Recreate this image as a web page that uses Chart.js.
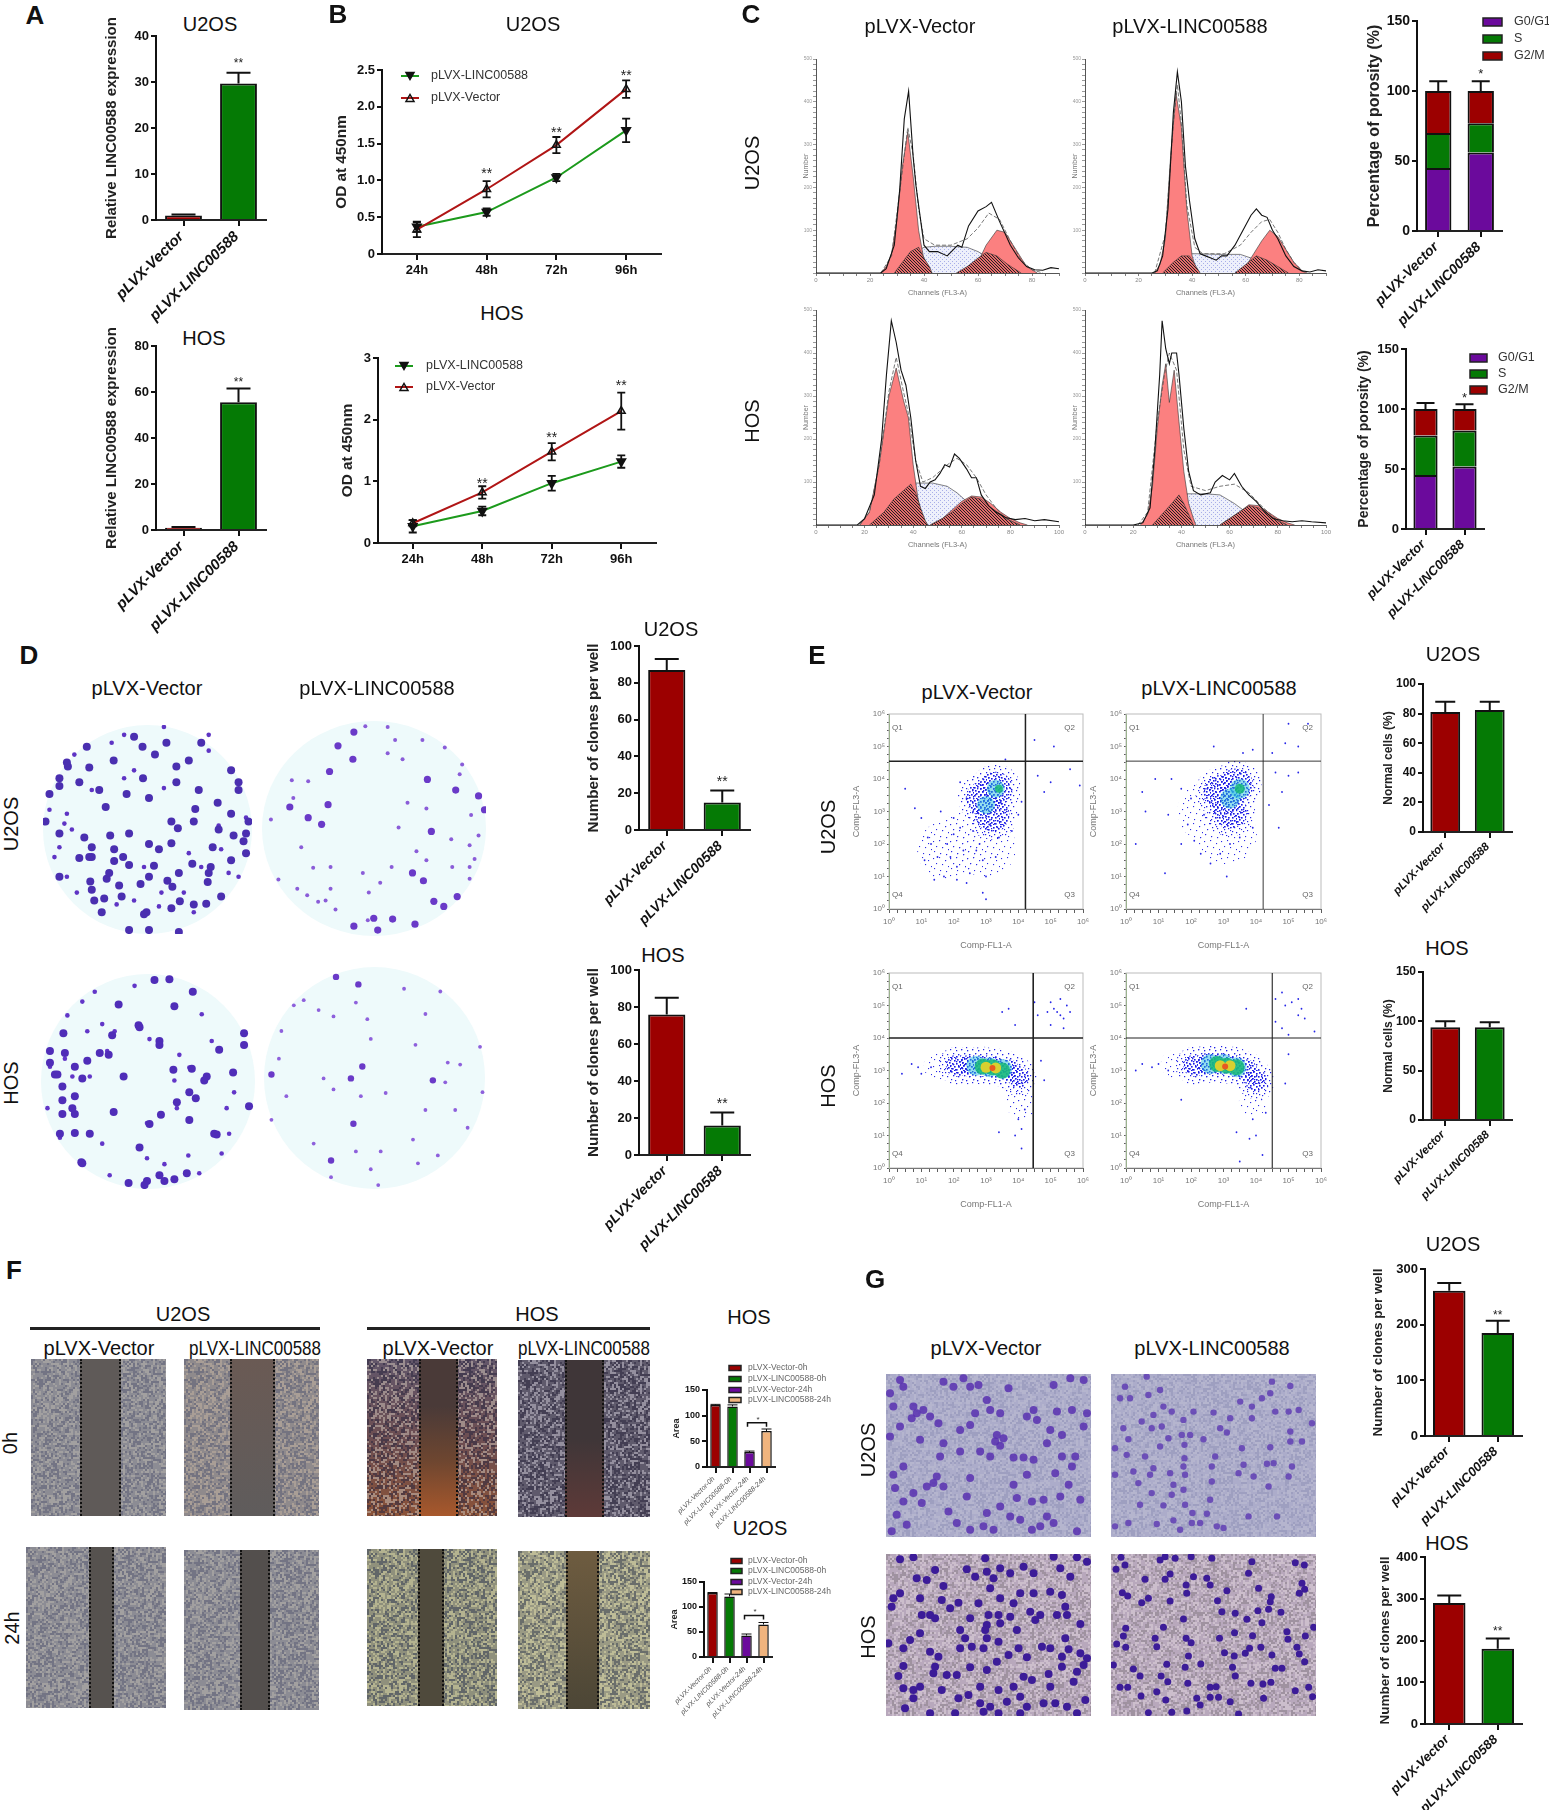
<!DOCTYPE html>
<html>
<head>
<meta charset="utf-8">
<title>LINC00588 figure</title>
<script src="https://cdn.jsdelivr.net/npm/chart.js"></script>
<style>
html, body { margin: 0; padding: 0; background: #fff; }
#page { position: relative; width: 1549px; height: 1810px; overflow: hidden; font-family: "Liberation Sans", Arial, sans-serif; color: #111; }
#page canvas { position: absolute; }
.t { position: absolute; white-space: nowrap; line-height: 1; }
.box { position: absolute; }
</style>
</head>
<body>
<div id="page"></div>
<script>
// ---- values ----
const groups = ['pLVX-Vector', 'pLVX-LINC00588'];
const hours = ['24h', '48h', '72h', '96h'];
const phases = ['G0/G1', 'S', 'G2/M'];
const woundGroups = ['pLVX-Vector-0h', 'pLVX-LINC00588-0h', 'pLVX-Vector-24h', 'pLVX-LINC00588-24h'];

const aU2os = [1, 29.7], aU2osErr = [1.2, 32];
const aHos = [1, 55.5], aHosErr = [1.3, 61.5];

const bU2osVector = [0.33, 0.88, 1.48, 2.24], bU2osVectorErr = [0.1, 0.11, 0.11, 0.12];
const bU2osLinc = [0.37, 0.57, 1.04, 1.68], bU2osLincErr = [0.07, 0.05, 0.05, 0.16];
const bU2osStars = [null, 1.09, 1.64, 2.42];
const bHosVector = [0.32, 0.82, 1.48, 2.14], bHosVectorErr = [0.05, 0.1, 0.14, 0.3];
const bHosLinc = [0.27, 0.52, 0.97, 1.32], bHosLincErr = [0.1, 0.07, 0.12, 0.1];
const bHosStars = [null, 0.96, 1.7, 2.55];

const cU2osG1 = [45, 56], cU2osS = [25, 21], cU2osG2 = [30, 23], cU2osErr = [107, 107];
const cHosG1 = [45, 52], cHosS = [33, 30], cHosG2 = [22, 18], cHosErr = [105, 104];

const dU2os = [87, 15], dU2osErr = [93, 21.5];
const dHos = [76, 16], dHosErr = [85, 23];
const eU2os = [81, 82.5], eU2osErr = [88, 88];
const eHos = [94, 94], eHosErr = [100, 99];
const fHos = [121, 118, 29, 70], fHosErr = [122, 121, 31, 74];
const fU2os = [128, 121, 43, 65], fU2osErr = [129, 126, 46, 69];
const gU2os = [261, 185], gU2osErr = [275, 207];
const gHos = [290, 180], gHosErr = [308, 205];

// cell cycle histograms, [channel, count %]
const h1Line = [[0,0],[24,0],[26,2],[29,13],[31,39],[32.7,72],[34.3,85],[36,54],[37,41],[40,13],[42,10],[45,10],[48.6,8],[52.5,13],[54,12],[56.5,22],[60,29],[63,31],[65,33],[68,24],[72,13],[75,7],[78,3],[81,1.5],[84,1.3],[87,2.5],[90,2]];
const h1Fit = [[24,0],[28,8],[31,38],[34,68],[36,55],[38,30],[40,16],[44,13],[50,13],[56,16],[60,21],[64,28],[68,25],[72,15],[76,6],[80,1.5],[84,0]];
const h1G1 = [[24,0],[26,3],[28,9],[30,25],[32,50],[34,66],[36,45],[38,20],[40,6],[42,0]];
const h1S = [[29,0],[33,6],[37,10],[40,12],[44,12.5],[50,12.5],[56,12],[60,10],[64,7],[68,3],[72,0]];
const h1G2 = [[52,0],[56,2],[60,5],[63,13],[67,20],[70,19],[74,11],[78,3],[82,0]];
const h1HatchA = [[29,0],[32,5],[35,10],[38,12],[40,7],[42,3],[43,0]];
const h1HatchB = [[52,0],[56,3],[60,7],[63,9.6],[67,8],[71,4],[76,0]];

const h2Line = [[0,0],[25,0],[27,1],[29,8],[31,30],[33,75],[34.5,94],[36,80],[37.5,50],[39,34],[41,16],[43,9],[45,8],[47,7],[49,6],[51,8],[53,8],[56,13],[59,20],[62,27],[64,30],[66,27],[68,26],[70,20],[72,16],[75,8],[78,3],[81,1],[84,0.5],[87,1.5],[90,1]];
const h2Fit = [[26,0],[30,18],[33,70],[34.5,88],[36,70],[38,32],[41,12],[44,9],[52,9],[58,13],[62,19],[66,24],[69,25],[72,19],[75,11],[78,5],[82,0]];
const h2G1 = [[26,0],[28,4],[30,16],[32,55],[34,84],[36,68],[38,30],[40,8],[42,0]];
const h2S = [[30,0],[34,6],[38,9],[42,9],[50,8.7],[58,8.7],[62,7],[66,4],[70,1],[72,0]];
const h2G2 = [[56,0],[60,3],[63,9],[66,15],[69,20],[72,17],[75,11],[78,5],[81,1],[83,0]];
const h2HatchA = [[29,0],[33,5],[36,8],[39,8],[41,4],[43,0]];
const h2HatchB = [[56,0],[60,4],[64,8],[68,6],[72,3],[76,0]];

const h3Line = [[0,0],[17,0],[20,3],[24,14],[27,40],[29,70],[31,95],[33,85],[35,72],[37,65],[39,50],[41,30],[43,18],[45,17],[47,20],[49,21],[51,24],[53,28],[55,27],[57,33],[59,31],[62,26],[64,22],[66,22],[68,14],[71,9],[74,6],[78,3.5],[82,2.5],[86,3],[90,2],[94,2.5],[100,1.5]];
const h3Fit = [[18,0],[22,6],[26,28],[30,62],[33,78],[36,62],[38,52],[41,30],[44,20],[48,22],[54,28],[58,31],[62,28],[66,22],[70,14],[74,8],[78,3],[84,0]];
const h3G1 = [[18,0],[22,6],[26,28],[30,60],[33,73],[36,58],[38,50],[40,28],[42,12],[44,3],[46,0]];
const h3S = [[24,0],[30,6],[36,14],[40,19.5],[48,19.5],[54,18],[58,15],[64,9],[70,4],[76,0]];
const h3G2 = [[47,0],[52,3],[56,7],[60,11],[64,13.5],[68,13],[72,10],[76,6],[80,3],[84,1],[87,0]];
const h3HatchA = [[22,0],[28,6],[32,12],[36,16],[39,19],[41,15],[43,8],[45,2],[46,0]];
const h3HatchB = [[47,0],[52,3],[56,6],[60,10],[64,13],[68,12],[72,8],[76,5],[80,2],[84,0]];

const h4Line = [[0,0],[20,0],[24,1],[27,8],[29,35],[31,70],[32,95],[33.5,82],[35,75],[36,80],[38,80],[39,70],[41,45],[43,25],[45,16],[48,14],[52,15],[54,20],[57,23],[60,21],[62,24],[65,18],[68,14],[71,11],[74,7],[78,3],[82,2],[86,1.5],[90,2],[94,1.5],[100,1]];
const h4Fit = [[22,0],[26,6],[30,48],[33,70],[35,80],[38,72],[41,35],[44,18],[50,16],[56,18],[62,19],[68,15],[74,8],[80,2],[84,0]];
const h4G1 = [[23,0],[26,5],[28,18],[30,45],[32,65],[33.5,75],[35,57],[37,72],[39,48],[41,25],[43,10],[45,3],[46,0]];
const h4S = [[28,0],[33,7],[38,12],[42,14.5],[50,14.5],[56,14],[62,10],[68,5],[72,1],[74,0]];
const h4G2 = [[56,0],[60,3],[64,6],[68,9.4],[72,9],[76,6],[80,3],[84,1],[87,0]];
const h4HatchA = [[28,0],[32,5],[36,10],[39,14],[41,10],[43,5],[45,0]];
const h4HatchB = [[56,0],[60,3],[64,6],[68,9],[72,8],[76,5],[80,2],[84,0]];

// flow dot plots, log10 [FL1, FL3]
const e1Dots = [[1.2,2.2],[1.5,1.6],[1.1,1.5],[1.8,2],[2.1,1.3],[1.7,1],[2.3,1.8],[2.6,2.4],[2,2.8],[1.6,3],[2.4,3.4],[2.2,3.9],[2.8,2],[2.9,1.5],[3,1],[2.9,0.5],[3,0.3],[3.3,1.6],[3.4,2.2],[3.8,2.4],[4,2.9],[4.1,3.3],[0.8,3.1],[0.5,3.7],[1,2.8],[1.4,0.9],[2.5,1.1],[2,2.3],[2.7,1.8],[3.1,2.6],[1.3,2],[1.9,1.6],[2.2,2.5],[2.6,3],[3.6,4.6],[4.6,4.1],[5,3.9],[5.6,4.3],[5.9,3.8],[4.5,5.2],[5.1,5],[4.8,3.6],[2.1,0.9],[2.4,0.8]];
const e1Sparse = [[1.8,1.8],[2.4,2.1],[3,1.9]];
const e1Dense = [[2.9,3.4],[3.3,3.7],[3.2,2.9]];
const e1Cyan = [[3.3,3.7],[3,3.2]];
const e1Green = [[3.4,3.7]];
const e2Dots = [[0.5,3.6],[0.9,4],[0.6,3],[1.4,4],[1.3,2.9],[1.7,3.7],[1.9,2.6],[2.1,2.1],[1.7,2],[2.3,1.7],[2.6,1.4],[3.1,1],[2.9,1.7],[3.2,2],[0.3,2],[1.2,1.1],[3.5,2.2],[3.9,2.5],[4.4,3.2],[4.7,2.5],[4.8,3.6],[4.6,4.2],[5,4.1],[5.3,4.2],[4.5,4.8],[4.9,5.1],[5.3,5],[5,5.7],[5.6,5.7],[2.7,5],[3.6,4.8],[3.9,4.9],[2.4,2.9],[2,3.4],[2.5,3.7]];
const e2Sparse = [[3.1,2.3],[2.5,3]];
const e2Dense = [[2.9,3.6],[3.4,3.8],[3.2,3]];
const e2Cyan = [[3.5,3.7],[3.2,3.4]];
const e2Green = [[3.5,3.7]];
const e3Dots = [[3.5,4.8],[3.7,4.9],[3.9,4.4],[4.5,5.1],[4.6,4.7],[4.9,4.8],[5,5.1],[5.2,4.8],[5.3,5.2],[5.4,4.6],[5.1,4.9],[5.3,4.7],[5.5,5],[5.6,4.8],[5.4,4.3],[5,4.4],[0.7,3.2],[0.9,3.1],[0.4,2.9],[1,2.9],[1.3,3.1],[4,1.5],[3.9,1],[4.1,1.2],[4.1,0.6],[4.2,1.8],[4.7,3.3],[4.8,2.7],[3.4,1.1]];
const e3Sparse = [[1.5,3.15],[4,2.3],[4.1,1.9]];
const e3Dense = [[2.1,3.15],[2.5,3.15],[2.9,3.15],[3.3,3.1],[3.7,3],[4,2.8]];
const e3Cyan = [[2.7,3.15],[3.1,3.1],[3.5,3.05]];
const e3Green = [[2.9,3.12],[3.2,3.1],[3.5,3]];
const e3Yellow = [[3,3.1],[3.3,3.08]];
const e3Red = [[3.2,3.08]];
const e4Dots = [[0.5,3.2],[0.8,3.1],[0.3,3],[1,3.2],[1.3,3],[1.7,2.1],[3.7,4.9],[4.6,5.2],[4.8,5.4],[4.9,5],[5.1,5.1],[5.3,5.2],[5.4,4.9],[5.3,4.7],[5.5,4.6],[4.8,4.3],[4.6,4.5],[5.8,4.2],[5,4.1],[3.4,1.1],[3.8,0.9],[3.9,1.5],[4,1],[4.2,0.4],[3.5,0.2],[4.3,1.7],[5,3.5],[4.9,2.6]];
const e4Sparse = [[1.5,3.2],[4,2.4],[3.9,2]];
const e4Dense = [[2.1,3.15],[2.5,3.2],[2.9,3.2],[3.3,3.15],[3.7,3],[4,2.7]];
const e4Cyan = [[2.6,3.2],[3,3.2],[3.4,3.1]];
const e4Green = [[2.8,3.2],[3.1,3.15],[3.4,3.1]];
const e4Yellow = [[2.9,3.15],[3.2,3.15]];
const e4Red = [[3.05,3.12]];

// colonies on the plates
const p1Big = [[229,355],[312,340],[287,320],[270,295],[380,355],[355,370],[137,370],[180,373],[160,410],[120,420],[200,430],[300,450],[255,440],[355,410],[288,400],[400,430],[480,430],[438,462],[465,490],[393,478],[213,473],[345,510],[358,527],[390,510],[320,580],[170,550],[185,575],[160,602],[185,600],[248,600],[230,610],[310,622],[387,617],[424,625],[465,608],[495,590],[490,560],[428,575],[470,545],[215,655],[240,672],[283,668],[337,660],[347,675],[418,663],[182,662],[185,683],[210,705],[205,740],[295,740],[362,712],[415,718],[260,785],[300,785],[92,510],[120,540],[260,540],[222,545],[300,567],[345,565],[245,700],[445,700],[175,320],[335,310],[405,310],[465,380],[360,790],[120,400],[135,360],[100,440],[480,410],[495,540],[500,510],[360,640],[300,650],[420,640],[230,580],[260,620],[180,600],[220,640],[345,730],[290,745],[390,720],[440,530],[190,710],[120,650]];
const p1Small = [[150,340],[225,310],[250,400],[330,425],[185,430],[135,490],[145,530],[120,575],[135,650],[155,690],[270,380],[420,330],[440,520],[460,640],[480,650],[235,720],[320,725],[390,740],[325,690],[370,690],[270,710],[290,625],[130,515],[380,590],[405,625],[445,580],[495,500],[420,290],[100,480],[110,600],[250,290],[330,270]];
const p2Big = [[680,318],[712,283],[710,352],[663,383],[860,403],[660,467],[583,473],[647,517],[620,500],[868,535],[830,640],[852,660],[790,757],[752,755],[712,775],[760,785],[835,770],[920,700],[873,712],[893,725],[975,480],[963,445],[917,430]];
const p2Small = [[735,268],[780,270],[795,303],[850,303],[895,322],[780,337],[810,352],[930,365],[925,390],[587,405],[620,408],[820,462],[858,477],[948,493],[802,525],[908,555],[963,545],[945,570],[955,605],[945,625],[910,625],[858,608],[838,585],[606,575],[630,627],[665,625],[560,657],[598,680],[655,710],[665,680],[788,625],[765,665],[675,733],[640,713],[618,697],[730,640],[742,690],[945,655],[590,450],[545,505],[740,760]];
const p3Big = [[238,972],[310,910],[340,908],[350,977],[387,940],[278,1025],[320,1065],[127,1045],[175,1115],[218,1100],[348,1138],[415,1155],[248,1155],[150,1205],[150,1250],[228,1245],[393,1210],[323,1252],[380,1265],[435,1302],[280,1335],[163,1372],[150,1298],[125,1250],[110,1150],[125,1180],[440,1087],[468,1145],[490,1045],[258,1425],[295,1420],[330,1420],[100,1090],[100,1120],[115,1150],[130,1095],[150,1130],[165,1160],[125,1215],[145,1235],[120,1300],[200,1095],[225,1050],[280,1030],[385,1135],[410,1165],[320,1075],[380,1195],[355,1220],[490,1075],[430,1300],[300,1275],[165,1375],[290,1430],[320,1405],[350,1415],[375,1400],[500,1230],[180,1300]];
const p3Small = [[190,940],[165,965],[270,925],[405,997],[135,1000],[205,1022],[230,1040],[175,1040],[300,1060],[360,1100],[425,1065],[380,1132],[350,1165],[470,1195],[455,1235],[355,1235],[295,1273],[215,1090],[180,1155],[145,1155],[95,1235],[120,1310],[205,1325],[295,1362],[330,1377],[378,1355],[445,1350],[460,1300],[220,1405],[400,1400],[100,1130],[130,1110]];
const p4Big = [[675,903],[720,922],[545,1150],[728,1130],[705,1160],[665,1368],[710,1275],[870,1165]];
const p4Small = [[640,987],[670,1003],[610,962],[590,975],[715,968],[812,933],[855,997],[885,940],[738,1010],[565,1040],[745,1060],[835,1075],[900,1120],[925,1125],[650,1160],[775,1197],[725,1205],[670,1188],[575,1205],[560,1110],[545,1265],[630,1325],[745,1390],[665,1410],[760,1430],[840,1375],[880,1355],[940,1285],[915,1240],[855,1240],[765,1345],[715,1345],[830,1315],[895,1170],[970,1195],[965,1080]];

// stained cells in the transwell fields
const t1Cells = [[60,60],[70,80],[100,140],[110,160],[130,150],[150,170],[175,190],[120,240],[30,230],[60,200],[40,140],[30,100],[190,65],[220,80],[270,80],[295,75],[250,55],[385,85],[320,120],[285,160],[330,150],[360,160],[270,195],[240,210],[350,225],[370,235],[345,245],[360,258],[400,293],[430,293],[460,300],[460,150],[440,170],[470,180],[520,75],[570,55],[610,60],[530,155],[575,150],[510,210],[500,250],[545,225],[545,290],[585,290],[525,340],[575,320],[620,160],[610,200],[180,290],[240,275],[300,275],[330,290],[70,320],[40,345],[170,350],[160,370],[190,380],[140,380],[270,355],[260,410],[45,385],[70,425],[125,430],[100,400],[400,375],[440,345],[410,415],[455,425],[490,420],[540,410],[565,375],[600,420],[360,440],[390,470],[420,480],[320,460],[310,500],[340,510],[270,510],[205,455],[230,490],[50,465],[80,495],[35,515],[500,470],[520,490],[480,500],[590,515],[455,510],[190,250],[95,175]];
const t2Cells = [[60,80],[45,115],[75,115],[125,50],[130,105],[165,90],[175,140],[145,165],[200,155],[110,185],[140,205],[170,200],[235,180],[190,235],[230,225],[255,225],[238,255],[238,295],[235,320],[165,260],[55,205],[70,238],[30,265],[65,285],[120,290],[265,155],[325,158],[375,175],[345,205],[365,218],[295,238],[410,265],[330,290],[320,320],[400,340],[415,315],[445,350],[490,380],[485,312],[505,310],[560,320],[550,350],[405,125],[440,140],[470,115],[500,65],[495,100],[510,155],[550,155],[580,150],[620,190],[555,78],[555,215],[555,245],[590,245],[495,262],[440,175],[30,345],[85,335],[145,325],[135,345],[195,340],[240,345],[205,375],[235,390],[200,405],[140,400],[100,370],[105,435],[175,437],[315,420],[320,365],[305,462],[240,435],[262,460],[205,482],[155,493],[70,490],[260,490],[285,490],[225,510],[335,500],[355,505],[30,500],[430,470],[515,470]];
const t3Cells = [[60,28],[100,22],[165,60],[110,85],[140,90],[190,108],[260,58],[285,80],[320,65],[315,25],[360,55],[390,70],[430,50],[460,70],[540,55],[570,80],[590,22],[620,35],[520,20],[60,130],[40,145],[35,170],[120,145],[185,150],[235,158],[125,195],[150,195],[165,205],[210,175],[270,205],[295,160],[330,115],[340,85],[360,145],[420,130],[400,160],[460,130],[510,125],[545,135],[555,170],[560,195],[450,185],[480,195],[465,210],[530,195],[600,222],[325,195],[355,195],[390,200],[320,225],[360,220],[315,240],[120,250],[90,270],[240,240],[255,265],[320,265],[355,275],[410,240],[555,265],[485,290],[510,295],[565,298],[240,295],[275,290],[310,295],[150,305],[175,320],[70,295],[25,280],[415,295],[385,315],[440,322],[545,320],[600,310],[620,325],[270,352],[320,360],[350,335],[70,348],[165,350],[200,375],[230,375],[55,378],[160,370],[505,372],[545,350],[610,345],[590,365],[430,380],[455,390],[580,395],[300,410],[400,410],[355,420],[420,440],[510,410],[100,420],[120,410],[70,415],[185,420],[235,445],[265,435],[300,460],[330,470],[310,485],[380,455],[440,470],[420,490],[490,460],[525,460],[560,470],[590,490],[615,450],[150,490],[75,475],[225,490],[355,490],[100,445]];
const t4Cells = [[48,22],[33,58],[60,45],[210,25],[165,30],[180,20],[258,20],[320,25],[440,35],[430,70],[570,38],[597,45],[120,88],[195,72],[180,88],[265,80],[305,85],[315,105],[243,105],[245,130],[52,128],[68,138],[110,158],[130,145],[195,153],[365,122],[460,115],[590,100],[598,118],[582,130],[498,140],[495,155],[337,152],[350,185],[390,190],[425,208],[470,218],[490,178],[527,187],[458,182],[235,207],[175,232],[62,235],[55,258],[150,265],[155,290],[243,265],[258,278],[343,265],[388,248],[442,257],[545,245],[548,268],[600,258],[625,232],[575,292],[582,312],[598,335],[433,295],[420,310],[467,292],[500,315],[358,308],[387,318],[250,318],[287,342],[240,352],[85,357],[105,378],[185,343],[382,352],[390,378],[510,355],[530,355],[168,378],[188,395],[248,400],[45,412],[68,412],[108,438],[155,425],[182,450],[275,445],[315,412],[333,410],[340,442],[315,442],[285,465],[375,455],[437,400],[473,402],[497,397],[610,412],[622,440],[570,422],[130,488],[200,487],[245,483],[400,492],[475,445],[25,345],[62,292],[35,282]];

// ---- helpers ----
const RED = '#9c0000', GREEN = '#057a05', PURPLE = '#6b0a9c', ORANGE = '#f0b47e';
const page = document.getElementById('page');
const M = { l: 110, r: 100, t: 45, b: 130 };
Chart.defaults.font.family = '"Liberation Sans", Arial, sans-serif';
Chart.defaults.animation = false;
Chart.defaults.plugins.legend.display = false;
Chart.defaults.plugins.tooltip.enabled = false;

function text(str, cx, cy, size, o = {}) {
    const d = document.createElement('div');
    d.className = 't';
    d.textContent = str;
    d.style.left = cx + 'px';
    d.style.top = cy + 'px';
    d.style.fontSize = size + 'px';
    if (o.bold) d.style.fontWeight = 'bold';
    d.style.transform = `translate(-50%,-50%) rotate(${o.rot || 0}deg) scaleX(${o.sx || 1})`;
    page.appendChild(d);
}

function newCanvas(left, top, w, h) {
    const c = document.createElement('canvas');
    c.width = w;
    c.height = h;
    c.style.left = left + 'px';
    c.style.top = top + 'px';
    page.appendChild(c);
    return c;
}

function boxCanvas(b) {
    return newCanvas(b.l - M.l, b.t - M.t, b.r - b.l + M.l + M.r, b.b - b.t + M.t + M.b);
}

function tile(size, color, dots, bg, dot = 1) {
    const c = document.createElement('canvas');
    c.width = c.height = size;
    const g = c.getContext('2d');
    if (bg) { g.fillStyle = bg; g.fillRect(0, 0, size, size); }
    g.fillStyle = color;
    dots.forEach(d => g.fillRect(d[0], d[1], dot, dot));
    return g.createPattern(c, 'repeat');
}

function axisScales(b, o) {
    const tickFont = { size: o.tickSize || 13, weight: 'bold' };
    return {
        x: {
            offset: true,
            afterFit: s => { s.height = M.b; },
            grid: { drawOnChartArea: false, offset: false, color: '#111', lineWidth: 2, tickLength: 6 },
            border: { color: '#222', width: 2 },
            ticks: {
                color: o.labelColor || '#111',
                autoSkip: false,
                padding: o.labelPad === undefined ? 2 : o.labelPad,
                labelOffset: o.flat ? 0 : -2,
                font: { size: o.labelSize || 14, weight: o.flat ? 'bold' : (o.labelWeight || 'bold'), style: o.flat ? 'normal' : 'italic' },
                minRotation: o.flat ? 0 : 45,
                maxRotation: o.flat ? 0 : 45
            }
        },
        y: {
            min: 0,
            max: o.max,
            afterFit: s => { s.width = M.l; },
            ticks: { stepSize: o.step, color: '#111', font: tickFont, padding: 2, autoSkip: false },
            grid: { drawOnChartArea: false, color: '#111', lineWidth: 2, tickLength: 5 },
            border: { color: '#111', width: 2 },
            title: {
                display: true,
                text: o.yTitle,
                color: '#222',
                font: { size: o.titleSize, weight: 'bold' },
                padding: { top: o.titleX - (b.l - M.l) - o.titleSize * 0.6, bottom: 0 }
            }
        }
    };
}

// error bars and significance stars
function marks(o) {
    return {
        id: 'marks',
        afterDatasetsDraw(ch) {
            const g = ch.ctx, y = ch.scales.y, meta = ds => ch.getDatasetMeta(ds).data;
            g.save();
            g.strokeStyle = '#111';
            g.lineWidth = o.errWidth || 2;
            (o.err || []).forEach(e => {
                e.hi.forEach((v, i) => {
                    const x = meta(e.ds)[i].x;
                    const top = y.getPixelForValue(v);
                    const low = e.lo ? y.getPixelForValue(e.lo[i]) : y.getPixelForValue(e.from[i]);
                    g.beginPath();
                    g.moveTo(x, low); g.lineTo(x, top);
                    g.moveTo(x - o.cap, top); g.lineTo(x + o.cap, top);
                    if (e.lo) { g.moveTo(x - o.cap, low); g.lineTo(x + o.cap, low); }
                    g.stroke();
                });
            });
            g.fillStyle = '#222';
            g.font = (o.starSize || 14) + 'px "Liberation Sans"';
            g.textAlign = 'center';
            g.textBaseline = 'middle';
            (o.stars || []).forEach((v, i) => {
                if (v !== null) g.fillText(o.starText || '**', meta(0)[i].x, y.getPixelForValue(v));
            });
            g.restore();
        }
    };
}

// legend laid out at fixed page coordinates
function keyBox(b, o) {
    const ox = b.l - M.l, oy = b.t - M.t;
    return {
        id: 'keyBox',
        afterDraw(ch) {
            const g = ch.ctx;
            g.save();
            g.font = `${o.size}px "Liberation Sans"`;
            g.textBaseline = 'middle';
            o.items.forEach((it, i) => {
                const y = o.ys[i] - oy, x0 = o.x0 - ox, x1 = o.x1 - ox;
                if (it.kind === 'swatch') {
                    g.fillStyle = it.color;
                    g.strokeStyle = '#222';
                    g.lineWidth = 1.5;
                    g.fillRect(x0, y - (o.h || 4), x1 - x0, (o.h || 4) * 2);
                    g.strokeRect(x0, y - (o.h || 4), x1 - x0, (o.h || 4) * 2);
                } else {
                    g.strokeStyle = it.color;
                    g.lineWidth = 2;
                    g.beginPath(); g.moveTo(x0, y); g.lineTo(x1, y); g.stroke();
                    const cx = (x0 + x1) / 2, d = it.kind === 'down' ? 1 : -1;
                    g.strokeStyle = '#111';
                    g.lineWidth = 1.5;
                    g.beginPath();
                    g.moveTo(cx - 4, y - 3.5 * d); g.lineTo(cx + 4, y - 3.5 * d); g.lineTo(cx, y + 3.5 * d); g.closePath();
                    if (it.kind === 'down') { g.fillStyle = '#111'; g.fill(); }
                    g.stroke();
                }
                g.fillStyle = o.color || '#333';
                g.fillText(it.text, o.tx - ox, y);
            });
            g.restore();
        }
    };
}

function barPanel(b, labels, values, errs, colors, o) {
    new Chart(boxCanvas(b), {
        type: 'bar',
        data: {
            labels,
            datasets: [{ data: values, backgroundColor: colors, borderColor: '#111', borderWidth: o.barBorder || 2, barPercentage: o.barPct || 0.67, categoryPercentage: 1 }]
        },
        options: {
            responsive: false,
            layout: { autoPadding: false, padding: { top: M.t, right: M.r } },
            scales: axisScales(b, o)
        },
        plugins: [marks({ err: [{ ds: 0, hi: errs, from: values }], cap: o.cap || 12, stars: o.stars, starText: o.starText, starSize: o.starSize, errWidth: o.errWidth }), ...(o.extra || [])]
    });
}

function stackPanel(b, labels, o) {
    new Chart(boxCanvas(b), {
        type: 'bar',
        data: {
            labels,
            datasets: [
                { label: phases[0], data: o.g1, backgroundColor: PURPLE },
                { label: phases[1], data: o.s, backgroundColor: GREEN },
                { label: phases[2], data: o.g2, backgroundColor: RED }
            ].map(d => Object.assign(d, { borderColor: '#111', borderWidth: 2, barPercentage: 0.62, categoryPercentage: 1 }))
        },
        options: {
            responsive: false,
            layout: { autoPadding: false, padding: { top: M.t, right: M.r } },
            scales: (() => {
                const s = axisScales(b, o);
                s.x.stacked = true;
                s.y.stacked = true;
                return s;
            })()
        },
        plugins: [
            marks({ err: [{ ds: 0, hi: o.err, from: [100, 100] }], cap: 9, stars: o.stars, starText: '*', starSize: 13 }),
            keyBox(b, { items: phases.map((p, i) => ({ text: p, kind: 'swatch', color: [PURPLE, GREEN, RED][i] })), x0: o.key.x0, x1: o.key.x1, tx: o.key.tx, ys: o.key.ys, size: 12.5 })
        ]
    });
}

function linePanel(b, o) {
    new Chart(boxCanvas(b), {
        type: 'line',
        data: {
            labels: hours,
            datasets: [
                { data: o.linc, borderColor: '#1c9a1c', borderWidth: 2, pointStyle: 'triangle', rotation: 180, pointRadius: 4.5, pointBackgroundColor: '#111', pointBorderColor: '#111', order: 2 },
                { data: o.vector, borderColor: '#b01515', borderWidth: 2, pointStyle: 'triangle', pointRadius: 4.5, pointBackgroundColor: 'rgba(0,0,0,0)', pointBorderColor: '#111', pointBorderWidth: 1.5, order: 1 }
            ]
        },
        options: {
            responsive: false,
            layout: { autoPadding: false, padding: { top: M.t, right: M.r } },
            scales: axisScales(b, Object.assign({ flat: true, labelSize: 13, labelPad: 3 }, o))
        },
        plugins: [
            marks({
                cap: 4,
                errWidth: 1.8,
                stars: o.stars,
                err: [
                    { ds: 0, hi: o.linc.map((v, i) => v + o.lincErr[i]), lo: o.linc.map((v, i) => v - o.lincErr[i]) },
                    { ds: 1, hi: o.vector.map((v, i) => v + o.vectorErr[i]), lo: o.vector.map((v, i) => v - o.vectorErr[i]) }
                ]
            }),
            keyBox(b, {
                items: [{ text: groups[1], kind: 'down', color: '#1c9a1c' }, { text: groups[0], kind: 'up', color: '#b01515' }],
                x0: o.key.x0, x1: o.key.x1, tx: o.key.tx, ys: o.key.ys, size: 12.5
            })
        ]
    });
}

const hatchDark = tile(3, '#222', [[0, 0], [1, 1], [2, 2]], '#e66a6a');
const hatchLav = tile(4, '#a8aee8', [[0, 1], [2, 3]], '#eef0fb');
const xy = a => a.map(p => ({ x: p[0], y: p[1] }));

function histPanel(b, xMax, d) {
    const fill = (data, backgroundColor) => ({ data: xy(data), backgroundColor, fill: 'origin', borderWidth: 0.6, borderColor: '#333', pointRadius: 0 });
    new Chart(boxCanvas(b), {
        type: 'line',
        data: {
            datasets: [
                { data: xy(d.line), borderColor: '#111', borderWidth: 1.1, pointRadius: 0, fill: false },
                { data: xy(d.fit), borderColor: '#555', borderWidth: 0.8, borderDash: [4, 2], pointRadius: 0, fill: false },
                fill(d.hatchA, hatchDark),
                fill(d.hatchB, hatchDark),
                fill(d.g1, '#fb8080'),
                fill(d.g2, '#fb8080'),
                fill(d.s, hatchLav)
            ]
        },
        options: {
            responsive: false,
            layout: { autoPadding: false, padding: { top: M.t, right: M.r } },
            scales: {
                x: {
                    type: 'linear', min: 0, max: xMax,
                    afterFit: s => { s.height = M.b; },
                    grid: { drawOnChartArea: false, color: '#444', lineWidth: 0.7, tickLength: 3 },
                    border: { color: '#555', width: 1 },
                    ticks: { stepSize: 5, autoSkip: false, padding: 1, color: '#888', font: { size: 6 }, maxRotation: 0, callback: v => (v % 20 === 0 ? v : '') },
                    title: { display: true, text: 'Channels (FL3-A)', color: '#777', font: { size: 7.5 }, align: 'center', padding: { top: 0, bottom: M.b - 24 } }
                },
                y: {
                    min: 0, max: 100,
                    afterFit: s => { s.width = M.l; },
                    grid: { drawOnChartArea: false, color: '#555', lineWidth: 0.6, tickLength: 3 },
                    border: { color: '#555', width: 1 },
                    ticks: { stepSize: 2.5, autoSkip: false, padding: 1, color: '#999', font: { size: 5 }, callback: v => (v % 20 === 0 && v > 0 ? v * 5 : '') },
                    title: { display: true, text: 'Number', color: '#777', font: { size: 7 }, padding: { top: M.l - 14, bottom: 0 } }
                }
            }
        }
    });
}

const speckDense = tile(13, '#1a1ae6', [[0,1],[3,0],[6,2],[9,1],[11,3],[1,4],[4,5],[8,5],[12,6],[2,7],[6,8],[10,8],[0,9],[4,10],[8,11],[12,10],[2,12],[6,12]], null, 1.6);
const speckMid = tile(11, '#2222e6', [[1,1],[6,0],[9,4],[3,5],[7,8],[0,9]], null, 1.2);
const speckSparse = tile(17, '#2a2ae6', [[1,2],[7,1],[13,4],[4,7],[10,8],[16,10],[2,12],[8,14],[14,15]], null, 1.1);

function dotPanel(b, o) {
    const blob = (data, color, r) => ({ data: xy(data), pointRadius: r, pointBackgroundColor: color, pointBorderWidth: 0 });
    const sets = [];
    if (o.red) sets.push(blob(o.red, '#e85a20', 3));
    if (o.yellow) sets.push(blob(o.yellow, '#d8d030', 5.5));
    sets.push(blob(o.green, 'rgba(24,184,120,0.85)', o.greenR));
    sets.push(blob(o.cyan, 'rgba(40,190,220,0.5)', o.cyanR));
    sets.push(blob(o.dense, speckDense, o.denseR));
    sets.push(blob(o.dense, speckMid, o.denseR + 8));
    sets.push(blob(o.sparse, speckSparse, o.sparseR));
    sets.push(blob(o.dots, '#2626e8', 0.9));
    new Chart(boxCanvas(b), {
        type: 'scatter',
        data: { datasets: sets },
        options: {
            responsive: false,
            layout: { autoPadding: false, padding: { top: M.t, right: M.r } },
            scales: {
                x: {
                    min: 0, max: 6,
                    afterFit: s => { s.height = M.b; },
                    grid: { drawOnChartArea: false, color: '#333', lineWidth: 0.8, tickLength: 4 },
                    border: { color: '#333', width: 1 },
                    ticks: { stepSize: 0.25, autoSkip: false, padding: 4, maxRotation: 0, color: '#777', font: { size: 8 }, callback: v => (Number.isInteger(v) ? '10' + '⁰¹²³⁴⁵⁶'[v] : '') },
                    title: { display: true, text: 'Comp-FL1-A', color: '#777', font: { size: 9 }, padding: { top: 0, bottom: M.b - 42 } }
                },
                y: {
                    min: 0, max: 6,
                    afterFit: s => { s.width = M.l; },
                    grid: { drawOnChartArea: false, color: '#333', lineWidth: 0.8, tickLength: 2 },
                    border: { color: '#7aa860', width: 1 },
                    ticks: { stepSize: 0.25, autoSkip: false, padding: 2, color: '#777', font: { size: 8 }, callback: v => (Number.isInteger(v) ? '10' + '⁰¹²³⁴⁵⁶'[v] : '') },
                    title: { display: true, text: 'Comp-FL3-A', color: '#777', font: { size: 9 }, padding: { top: M.l - 38, bottom: 0 } }
                }
            }
        },
        plugins: [{
            id: 'gates',
            afterDatasetsDraw(ch) {
                const g = ch.ctx, a = ch.chartArea, x = ch.scales.x.getPixelForValue(o.gx), y = ch.scales.y.getPixelForValue(o.gy);
                g.save();
                g.strokeStyle = '#bbb';
                g.lineWidth = 1;
                g.strokeRect(a.left, a.top, a.right - a.left, a.bottom - a.top);
                g.strokeStyle = '#222';
                g.lineWidth = o.gw;
                g.beginPath();
                g.moveTo(x, a.top); g.lineTo(x, a.bottom);
                g.moveTo(a.left, y); g.lineTo(a.right, y);
                g.stroke();
                g.fillStyle = '#666';
                g.font = '8px "Liberation Sans"';
                g.textBaseline = 'middle';
                g.fillText('Q1', a.left + 3, a.top + 14);
                g.fillText('Q4', a.left + 3, a.bottom - 14);
                g.textAlign = 'right';
                g.fillText('Q2', a.right - 8, a.top + 14);
                g.fillText('Q3', a.right - 8, a.bottom - 14);
                g.restore();
            }
        }]
    });
}

// scale bounds are the coordinates the marks were read in
function markField(b, read, sets) {
    new Chart(newCanvas(b.l, b.t, b.r - b.l, b.b - b.t), {
        type: 'scatter',
        data: { datasets: sets.map(s => ({ data: xy(s.data), pointRadius: s.r, pointBackgroundColor: s.color, pointBorderWidth: 0 })) },
        options: {
            responsive: false,
            layout: { autoPadding: false },
            scales: {
                x: { display: false, min: read.x0, max: read.x1 },
                y: { display: false, min: read.y0, max: read.y1, reverse: true }
            }
        }
    });
}

function plate(b, read, big, small, colorBig, colorSmall, rBig, rSmall) {
    const d = document.createElement('div');
    d.className = 'box';
    Object.assign(d.style, { left: b.l + 'px', top: b.t + 'px', width: (b.r - b.l) + 'px', height: (b.b - b.t) + 'px', borderRadius: '50%', background: '#eefafb' });
    page.appendChild(d);
    markField(b, read, [{ data: big, r: rBig, color: colorBig }, { data: small, r: rSmall, color: colorSmall }]);
}

function photo(b, bg) {
    const d = document.createElement('div');
    d.className = 'box';
    Object.assign(d.style, { left: b.l + 'px', top: b.t + 'px', width: (b.r - b.l) + 'px', height: (b.b - b.t) + 'px', background: bg });
    page.appendChild(d);
    return d;
}

// grain for the photo placeholders only, no chart value comes from this
function speckle(a, c, base) {
    const t = document.createElement('canvas');
    t.width = t.height = 240;
    const g = t.getContext('2d');
    g.globalAlpha = 0.55;
    for (let x = 0; x < 240; x += 2) {
        for (let y = 0; y < 240; y += 2) {
            const s = Math.sin(x * 12.9898 + y * 78.233) * 43758.5453;
            const h = s - Math.floor(s);
            if (h < 0.3) { g.fillStyle = a; g.fillRect(x, y, 2, 2); }
            else if (h > 0.7) { g.fillStyle = c; g.fillRect(x, y, 2, 2); }
        }
    }
    return `url(${t.toDataURL()}), ${base}`;
}

function wound(b, l, r, sheet, gap) {
    photo(b, sheet);
    const band = photo({ l, r, t: b.t, b: b.b }, gap);
    band.style.borderLeft = '2px dotted #111';
    band.style.borderRight = '2px dotted #111';
    band.style.boxSizing = 'border-box';
}

// ---- panel A ----
text('A', 35, 15, 26, { bold: true });
text('U2OS', 210, 24, 20);
text('HOS', 204, 338, 20);
barPanel({ l: 156, r: 266, t: 36, b: 220 }, groups, aU2os, aU2osErr, [RED, GREEN], { max: 40, step: 10, yTitle: 'Relative LINC00588 expression', titleX: 112, titleSize: 15, labelSize: 15, stars: [null, 34], starSize: 12 });
barPanel({ l: 156, r: 266, t: 346, b: 530 }, groups, aHos, aHosErr, [RED, GREEN], { max: 80, step: 20, yTitle: 'Relative LINC00588 expression', titleX: 112, titleSize: 15, labelSize: 15, stars: [null, 64], starSize: 12 });

// ---- panel B ----
text('B', 338, 14, 26, { bold: true });
text('U2OS', 533, 24, 20);
text('HOS', 502, 313, 20);
linePanel({ l: 382, r: 661, t: 70, b: 254 }, {
    max: 2.5, step: 0.5, yTitle: 'OD at 450nm', titleX: 342, titleSize: 15.3,
    vector: bU2osVector, vectorErr: bU2osVectorErr, linc: bU2osLinc, lincErr: bU2osLincErr, stars: bU2osStars,
    key: { x0: 401, x1: 419, tx: 431, ys: [76, 98] }
});
linePanel({ l: 378, r: 656, t: 358, b: 543 }, {
    max: 3, step: 1, yTitle: 'OD at 450nm', titleX: 348, titleSize: 15.3,
    vector: bHosVector, vectorErr: bHosVectorErr, linc: bHosLinc, lincErr: bHosLincErr, stars: bHosStars,
    key: { x0: 395, x1: 413, tx: 426, ys: [366, 387] }
});

// ---- panel C ----
text('C', 751, 14, 26, { bold: true });
text(groups[0], 920, 26, 20);
text(groups[1], 1190, 26, 20);
text('U2OS', 752, 163, 20, { rot: -90 });
text('HOS', 752, 421, 20, { rot: -90 });
histPanel({ l: 816, r: 1059, t: 59, b: 273 }, 90, { line: h1Line, fit: h1Fit, g1: h1G1, s: h1S, g2: h1G2, hatchA: h1HatchA, hatchB: h1HatchB });
histPanel({ l: 1085, r: 1326, t: 59, b: 273 }, 90, { line: h2Line, fit: h2Fit, g1: h2G1, s: h2S, g2: h2G2, hatchA: h2HatchA, hatchB: h2HatchB });
histPanel({ l: 816, r: 1059, t: 310, b: 525 }, 100, { line: h3Line, fit: h3Fit, g1: h3G1, s: h3S, g2: h3G2, hatchA: h3HatchA, hatchB: h3HatchB });
histPanel({ l: 1085, r: 1326, t: 310, b: 525 }, 100, { line: h4Line, fit: h4Fit, g1: h4G1, s: h4S, g2: h4G2, hatchA: h4HatchA, hatchB: h4HatchB });
stackPanel({ l: 1417, r: 1502, t: 21, b: 231 }, groups, {
    max: 150, step: 50, yTitle: 'Percentage of porosity (%)', titleX: 1375, titleSize: 16, tickSize: 14,
    g1: cU2osG1, s: cU2osS, g2: cU2osG2, err: cU2osErr, stars: [null, 112],
    key: { x0: 1483, x1: 1502, tx: 1514, ys: [22, 39, 56] }
});
stackPanel({ l: 1406, r: 1484, t: 349, b: 529 }, groups, {
    max: 150, step: 50, yTitle: 'Percentage of porosity (%)', titleX: 1364, titleSize: 14, tickSize: 13, labelSize: 13,
    g1: cHosG1, s: cHosS, g2: cHosG2, err: cHosErr, stars: [null, 109],
    key: { x0: 1470, x1: 1487, tx: 1498, ys: [358, 374, 390] }
});

// ---- panel D ----
text('D', 29, 655, 26, { bold: true });
text(groups[0], 147, 688, 20);
text(groups[1], 377, 688, 20);
text('U2OS', 11, 824, 20, { rot: -90 });
text('HOS', 11, 1083, 20, { rot: -90 });
text('U2OS', 671, 629, 20);
text('HOS', 663, 955, 20);
plate({ l: 43, r: 252, t: 725, b: 934 }, { x0: 87, x1: 507, y0: 265, y1: 795 }, p1Big, p1Small, '#4a2fb0', '#5e34c4', 4, 2.3);
plate({ l: 262, r: 486, t: 721, b: 936 }, { x0: 527, x1: 978, y0: 255, y1: 800 }, p2Big, p2Small, '#6a3ac8', '#8a5cd8', 3.6, 2);
plate({ l: 41, r: 255, t: 974, b: 1189 }, { x0: 82, x1: 512, y0: 895, y1: 1440 }, p3Big, p3Small, '#4f2db8', '#6236c8', 4, 2.3);
plate({ l: 264, r: 485, t: 967, b: 1189 }, { x0: 530, x1: 975, y0: 878, y1: 1440 }, p4Big, p4Small, '#6a3ac8', '#8e60dc', 3.2, 1.9);
barPanel({ l: 639, r: 750, t: 646, b: 830 }, groups, dU2os, dU2osErr, [RED, GREEN], { max: 100, step: 20, yTitle: 'Number of clones per well', titleX: 594, titleSize: 15.2, stars: [null, 26] });
barPanel({ l: 639, r: 750, t: 970, b: 1155 }, groups, dHos, dHosErr, [RED, GREEN], { max: 100, step: 20, yTitle: 'Number of clones per well', titleX: 594, titleSize: 15.2, stars: [null, 27.5] });

// ---- panel E ----
text('E', 817, 655, 26, { bold: true });
text(groups[0], 977, 692, 20);
text(groups[1], 1219, 688, 20);
text('U2OS', 828, 827, 20, { rot: -90 });
text('HOS', 828, 1086, 20, { rot: -90 });
text('U2OS', 1453, 654, 20);
text('HOS', 1447, 948, 20);
dotPanel({ l: 889, r: 1083, t: 714, b: 909 }, { dots: e1Dots, sparse: e1Sparse, dense: e1Dense, cyan: e1Cyan, green: e1Green, sparseR: 30, denseR: 17, cyanR: 9, greenR: 4, gx: 4.22, gy: 4.55, gw: 1.5 });
dotPanel({ l: 1126, r: 1321, t: 714, b: 909 }, { dots: e2Dots, sparse: e2Sparse, dense: e2Dense, cyan: e2Cyan, green: e2Green, sparseR: 30, denseR: 17, cyanR: 10, greenR: 5, gx: 4.22, gy: 4.55, gw: 0.9 });
dotPanel({ l: 889, r: 1083, t: 973, b: 1168 }, { dots: e3Dots, sparse: e3Sparse, dense: e3Dense, cyan: e3Cyan, green: e3Green, yellow: e3Yellow, red: e3Red, sparseR: 14, denseR: 11, cyanR: 10, greenR: 8, gx: 4.46, gy: 4, gw: 1.6 });
dotPanel({ l: 1126, r: 1321, t: 973, b: 1168 }, { dots: e4Dots, sparse: e4Sparse, dense: e4Dense, cyan: e4Cyan, green: e4Green, yellow: e4Yellow, red: e4Red, sparseR: 14, denseR: 11, cyanR: 10, greenR: 8, gx: 4.5, gy: 4, gw: 1.1 });
barPanel({ l: 1423, r: 1512, t: 684, b: 832 }, groups, eU2os, eU2osErr, [RED, GREEN], { max: 100, step: 20, yTitle: 'Normal cells (%)', titleX: 1389, titleSize: 12, tickSize: 12, labelSize: 11.5, cap: 10 });
barPanel({ l: 1423, r: 1512, t: 972, b: 1120 }, groups, eHos, eHosErr, [RED, GREEN], { max: 150, step: 50, yTitle: 'Normal cells (%)', titleX: 1389, titleSize: 12, tickSize: 12, labelSize: 11.5, cap: 10 });

// ---- panel F ----
text('F', 14, 1270, 26, { bold: true });
text('U2OS', 183, 1314, 20);
text('HOS', 537, 1314, 20);
photo({ l: 30, r: 320, t: 1327, b: 1330 }, '#222');
photo({ l: 367, r: 650, t: 1327, b: 1330 }, '#222');
text(groups[0], 99, 1348, 20);
text(groups[1], 255, 1348, 20, { sx: 0.85 });
text(groups[0], 438, 1348, 20);
text(groups[1], 584, 1348, 20, { sx: 0.85 });
text('0h', 10, 1443, 20, { rot: -90 });
text('24h', 12, 1628, 20, { rot: -90 });
const sheetU2os = speckle('#5f6176', '#b4b0aa', '#8c8c94');
const sheetU2os2 = speckle('#5f6176', '#bfae9f', '#8f8a8c');
const sheetHosA = speckle('#2c2840', '#c8bcb0', 'linear-gradient(#62566a,#6e4e50 55%,#8a5238)');
const sheetHosB = speckle('#2c2840', '#c0bcc8', '#5f5a6c');
const sheetHos24 = speckle('#3c4458', '#d4d0a0', '#8f907c');
const sheetHos24b = speckle('#444a58', '#dcd8a8', '#9a9a84');
wound({ l: 31, r: 166, t: 1359, b: 1516 }, 80, 121, sheetU2os, '#5f5a58');
wound({ l: 184, r: 319, t: 1359, b: 1516 }, 230, 275, sheetU2os2, 'linear-gradient(#6a5a54,#5f5c5c)');
wound({ l: 367, r: 497, t: 1359, b: 1516 }, 419, 458, sheetHosA, 'linear-gradient(#4a3a38 30%,#6e4630 65%,#a8582c)');
wound({ l: 518, r: 650, t: 1360, b: 1517 }, 565, 604, sheetHosB, 'linear-gradient(#3f3638 50%,#5e3a38)');
wound({ l: 26, r: 166, t: 1547, b: 1708 }, 89, 114, sheetU2os, '#56524f');
wound({ l: 184, r: 319, t: 1550, b: 1710 }, 240, 270, sheetU2os, '#534f4d');
wound({ l: 367, r: 497, t: 1549, b: 1706 }, 418, 444, sheetHos24, '#4f4a3c');
wound({ l: 518, r: 650, t: 1551, b: 1709 }, 566, 599, sheetHos24b, 'linear-gradient(#6e5c40,#4c4636)');

const woundColors = [RED, GREEN, PURPLE, ORANGE];
const woundKey = woundGroups.map((g, i) => ({ text: g, kind: 'swatch', color: woundColors[i] }));
function bracket(b, i, j, v, vStar) {
    return {
        id: 'bracket',
        afterDatasetsDraw(ch) {
            const g = ch.ctx, m = ch.getDatasetMeta(0).data, y = ch.scales.y.getPixelForValue(v);
            g.save();
            g.strokeStyle = '#111';
            g.lineWidth = 1.5;
            g.beginPath();
            g.moveTo(m[i].x - 2, y + 4); g.lineTo(m[i].x - 2, y); g.lineTo(m[j].x, y); g.lineTo(m[j].x, y + 4);
            g.stroke();
            g.fillStyle = '#333';
            g.font = '8px "Liberation Sans"';
            g.textAlign = 'center';
            g.fillText('*', (m[i].x + m[j].x) / 2, ch.scales.y.getPixelForValue(vStar));
            g.restore();
        }
    };
}
text('HOS', 749, 1317, 20);
text('U2OS', 760, 1528, 20);
const fBoxHos = { l: 707, r: 775, t: 1390, b: 1467 };
const fBoxU2os = { l: 704, r: 772, t: 1582, b: 1657 };
const fOpts = { max: 150, step: 50, tickSize: 9, labelSize: 7, labelWeight: 'normal', labelColor: '#555', titleSize: 9, cap: 5, barBorder: 1.5, errWidth: 1, barPct: 0.62 };
barPanel(fBoxHos, woundGroups, fHos, fHosErr, woundColors, Object.assign({}, fOpts, {
    yTitle: 'Area', titleX: 677,
    extra: [bracket(fBoxHos, 2, 3, 86, 88), keyBox(fBoxHos, { items: woundKey, x0: 729, x1: 741, tx: 748, ys: [1368, 1379, 1390, 1400], size: 8.5, h: 2.5, color: '#666' })]
}));
barPanel(fBoxU2os, woundGroups, fU2os, fU2osErr, woundColors, Object.assign({}, fOpts, {
    yTitle: 'Area', titleX: 675,
    extra: [bracket(fBoxU2os, 2, 3, 83, 86), keyBox(fBoxU2os, { items: woundKey, x0: 731, x1: 742, tx: 748, ys: [1561, 1571, 1582, 1592], size: 8.5, h: 2.5, color: '#666' })]
}));

// ---- panel G ----
text('G', 875, 1279, 26, { bold: true });
text(groups[0], 986, 1348, 20);
text(groups[1], 1212, 1348, 20);
text('U2OS', 868, 1450, 20, { rot: -90 });
text('HOS', 868, 1637, 20, { rot: -90 });
text('U2OS', 1453, 1244, 20);
text('HOS', 1447, 1543, 20);
const fieldU2os = speckle('#9496b8', '#bebed2', '#acacca');
const fieldHos = speckle('#8a8088', '#ddd0d8', '#b8a8bc');
photo({ l: 886, r: 1091, t: 1374, b: 1537 }, fieldU2os);
photo({ l: 1111, r: 1316, t: 1374, b: 1537 }, fieldU2os);
photo({ l: 886, r: 1091, t: 1554, b: 1716 }, fieldHos);
photo({ l: 1111, r: 1316, t: 1554, b: 1716 }, fieldHos);
markField({ l: 886, r: 1091, t: 1374, b: 1537 }, { x0: 18, x1: 632, y0: 42, y1: 532 }, [{ data: t1Cells, r: 4, color: 'rgba(88,48,176,0.85)' }]);
markField({ l: 1111, r: 1316, t: 1374, b: 1537 }, { x0: 18, x1: 632, y0: 42, y1: 532 }, [{ data: t2Cells, r: 3.2, color: 'rgba(96,62,180,0.85)' }]);
markField({ l: 886, r: 1091, t: 1554, b: 1716 }, { x0: 18, x1: 632, y0: 12, y1: 498 }, [{ data: t3Cells, r: 4, color: '#3c1c98' }]);
markField({ l: 1111, r: 1316, t: 1554, b: 1716 }, { x0: 18, x1: 632, y0: 12, y1: 498 }, [{ data: t4Cells, r: 3.5, color: '#3c1c98' }]);
barPanel({ l: 1425, r: 1522, t: 1269, b: 1436 }, groups, gU2os, gU2osErr, [RED, GREEN], { max: 300, step: 100, yTitle: 'Number of clones per well', titleX: 1378, titleSize: 13.5, labelSize: 13, stars: [null, 216], starSize: 12 });
barPanel({ l: 1425, r: 1522, t: 1557, b: 1724 }, groups, gHos, gHosErr, [RED, GREEN], { max: 400, step: 100, yTitle: 'Number of clones per well', titleX: 1385, titleSize: 13.5, labelSize: 13, stars: [null, 220], starSize: 12 });
</script>
</body>
</html>
